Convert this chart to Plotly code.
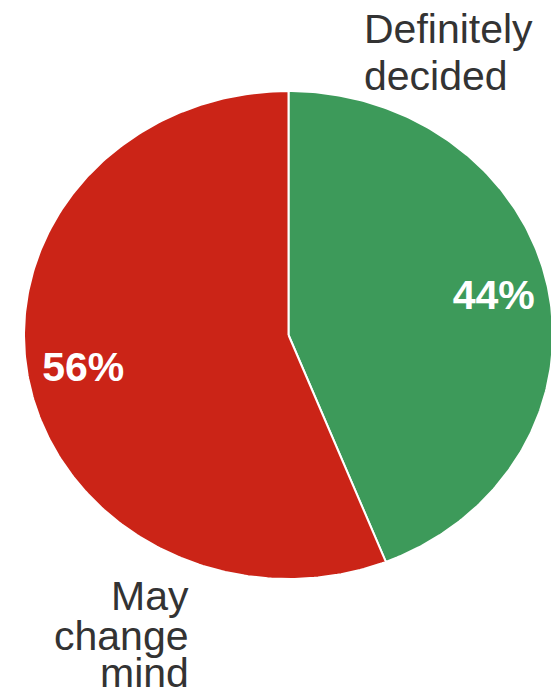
import numpy as np
import plotly.graph_objects as go

# Data
categories = ["Definitely decided", "May change mind"]
values = [44, 56]
colors = ["#3d9a5a", "#cb2417"]

# Page geometry: the figure sits at the body's 8px margin, axes map 1:1 to page pixels
PAGE_W, PAGE_H, OFF = 559, 694, 8
W, H = PAGE_W - OFF, PAGE_H - OFF
CX, CY, RX, RY = 288.5, 335, 264.5, 244

fig = go.Figure()
total = sum(values)
start = 0.0
mids = []
for cat, v, col in zip(categories, values, colors):
    frac = v / total
    t = np.linspace(start, start + frac, 240) * 2 * np.pi
    xs = np.concatenate([[CX], CX + RX * np.sin(t), [CX]])
    ys = np.concatenate([[CY], CY - RY * np.cos(t), [CY]])
    fig.add_trace(go.Scatter(x=xs, y=ys, fill="toself", fillcolor=col, mode="lines",
                             line=dict(color="white", width=2), hoverinfo="skip", showlegend=False))
    mids.append((start + frac / 2) * 2 * np.pi)
    start += frac

# percentage labels
r_lab = 0.79
fig.add_trace(go.Scatter(
    x=[CX + r_lab * RX * np.sin(m) for m in mids],
    y=[CY - r_lab * RY * np.cos(m) for m in mids],
    mode="text", text=[f"{v}%" for v in values],
    textfont=dict(family="Arial, Liberation Sans", size=41, color="white", weight="bold"),
    textposition="middle center", hoverinfo="skip", showlegend=False))

# outside category labels, one annotation per line
label_lines = [
    (categories[0].split(" "), "left", 362, [28.5, 75.5]),
    (categories[1].split(" "), "right", 191, [596, 636, 673]),
]
for words, anchor, x, ys in label_lines:
    for w, y in zip(words, ys):
        fig.add_annotation(x=x, y=y, xref="x", yref="y", text=w, showarrow=False,
                           xanchor=anchor, yanchor="middle",
                           font=dict(family="Arial, Liberation Sans", size=41, color="#333333"))

fig.update_layout(
    width=W, height=H, margin=dict(l=0, r=0, t=0, b=0),
    paper_bgcolor="white", plot_bgcolor="white",
    xaxis=dict(range=[OFF, PAGE_W], visible=False, fixedrange=True),
    yaxis=dict(range=[PAGE_H, OFF], visible=False, fixedrange=True),
)
fig.write_html("out.html")
